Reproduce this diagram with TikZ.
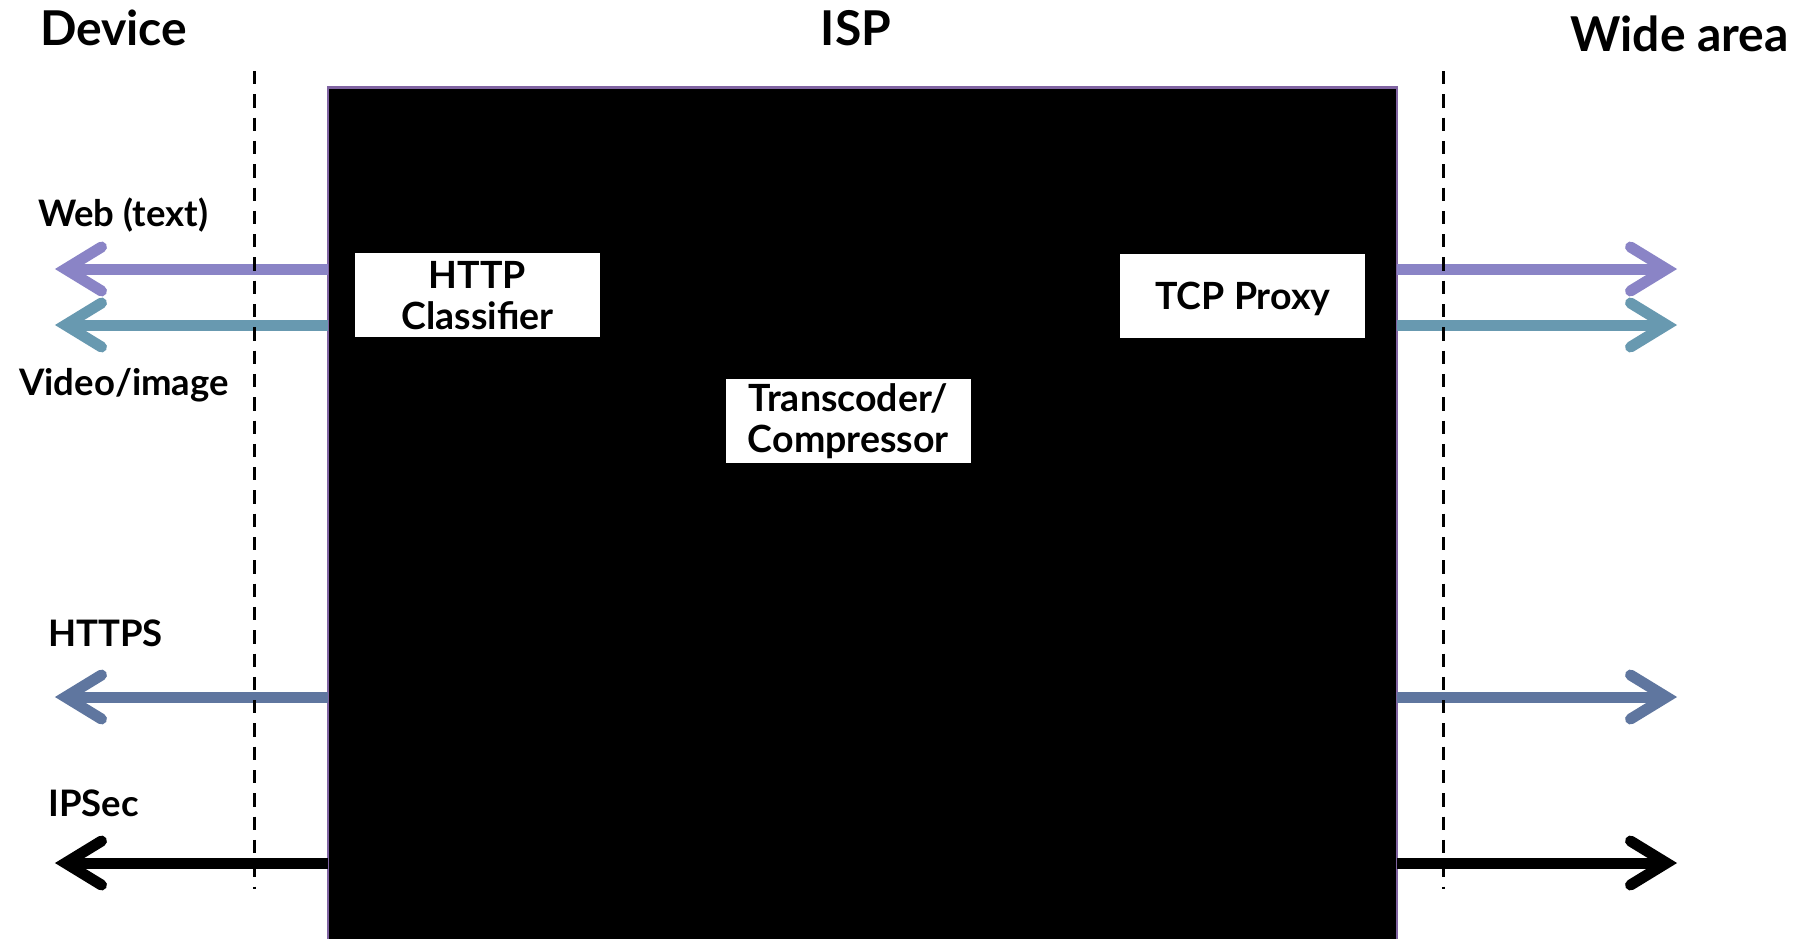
\documentclass[tikz,border=0pt]{standalone}
\usepackage{fontspec}
\setmainfont{Lato}
\definecolor{webc}{HTML}{8A84C6}
\definecolor{vidc}{HTML}{6899B0}
\definecolor{httpsc}{HTML}{5F769F}
\definecolor{ispborder}{HTML}{8064A2}
\begin{document}
\begin{tikzpicture}[x=1pt,y=-1pt,
  flow/.style={line width=11pt, line cap=butt},
  chev/.style={line width=11pt, line cap=round, line join=miter},
  sepline/.style={line width=3pt, dash pattern=on 13.3pt off 10pt, black},
  funcbox/.style={fill=white, minimum width=245pt, minimum height=84pt, inner sep=0pt, align=center,
     font=\fontsize{37.5}{41}\selectfont\bfseries},
  title/.style={font=\fontsize{48}{50}\selectfont\bfseries, inner sep=0pt},
  lbl/.style={font=\fontsize{36.5}{40}\selectfont\bfseries, anchor=base west, inner sep=0pt},
  ispbox/.style={draw=ispborder, fill=black, line width=2.7pt, minimum width=1069pt, minimum height=950pt,
     anchor=north west, inner sep=0pt, outer sep=0pt}]
\useasboundingbox (0,0) rectangle (1798,938);
\clip (0,0) rectangle (1798,938);

% ISP box
\node[ispbox] (isp) at (328,87.3) {};

% arrows
\foreach \n/\y/\c in {web/269/webc, vid/325/vidc, https/697/httpsc, ipsec/863/black}{
  \coordinate (\n Ls) at (328,\y);
  \coordinate (\n Lv) at (65.5,\y);
  \coordinate (\n Rs) at (1397,\y);
  \coordinate (\n Rv) at (1666.5,\y);
  \draw[flow,\c] (\n Ls) -- (\n Lv);
  \draw[chev,\c] ([shift={(36,-22)}]\n Lv) -- (\n Lv) -- ([shift={(36,22)}]\n Lv);
  \draw[flow,\c] (\n Rs) -- (\n Rv);
  \draw[chev,\c] ([shift={(-36,-22)}]\n Rv) -- (\n Rv) -- ([shift={(-36,22)}]\n Rv);
}

% dashed separators
\coordinate (dlt) at (254,71);
\coordinate (dlb) at (254,889);
\coordinate (drt) at (1443,71);
\coordinate (drb) at (1443,889);
\draw[sepline] (dlt) -- (dlb);
\draw[sepline] (drt) -- (drb);

% function boxes
\node[funcbox] (cls) at (477.5,295.3) {HTTP\\Classifier};
\node[funcbox, text depth=0pt] (tcp) at (1242.8,295.7) {TCP Proxy};
\node[funcbox] (trans) at (848.3,420.7) {Transcoder/\\Compressor};

% titles
\node[title, anchor=base west] (device) at (40,45) {Device};
\node[title, anchor=base] (ispt) at (856,45.7) {ISP};
\node[title, anchor=base east] (wide) at (1789,51.7) {Wide area};

% labels
\node[lbl] (weblbl) at (38,226) {Web (text)};
\node[lbl] (vidlbl) at (19,395) {Video/image};
\node[lbl] (httpslbl) at (48,646) {HTTPS};
\node[lbl] (ipseclbl) at (48,816) {IPSec};
\end{tikzpicture}
\end{document}
